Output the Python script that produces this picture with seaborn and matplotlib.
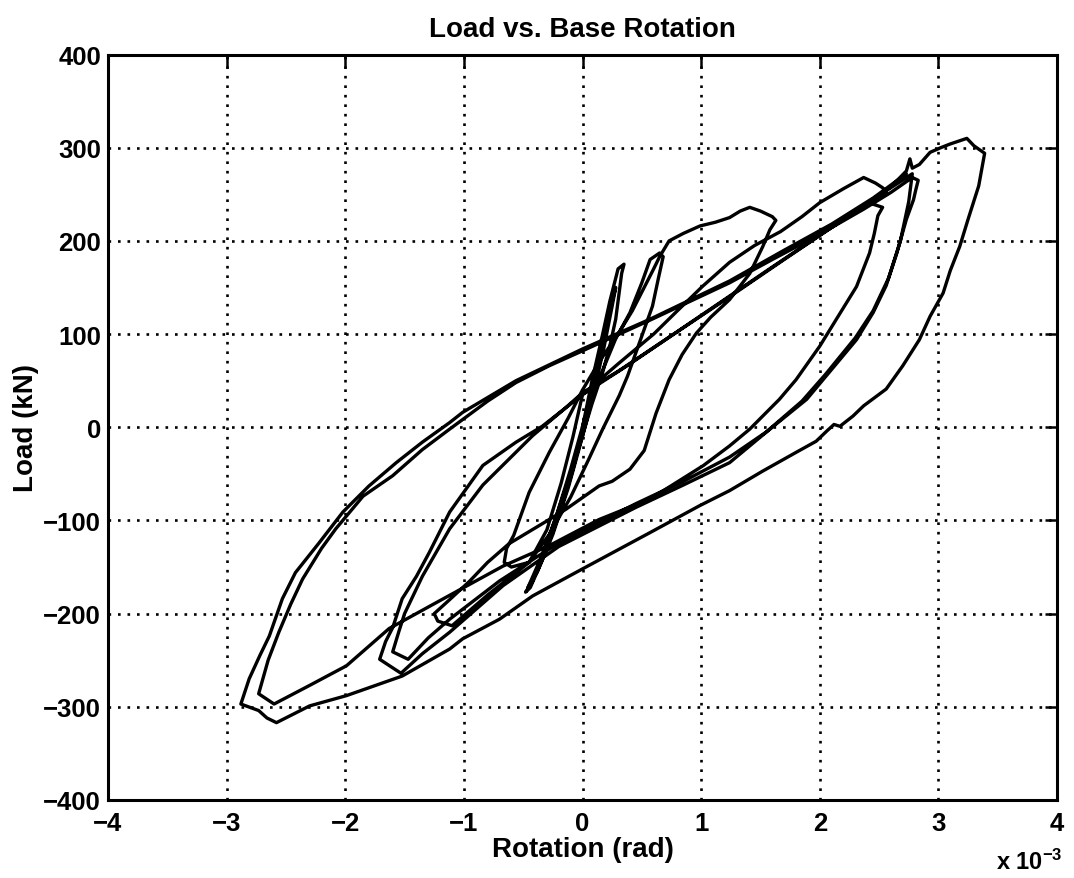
import numpy as np
import pandas as pd
import matplotlib
matplotlib.use("Agg")
import matplotlib.pyplot as plt
import seaborn as sns

# Cyclic test record: base rotation (x 10^-3 rad) against applied load (kN),
# stored cycle by cycle in the order the load history was applied.

# Cycle 1: small elastic cycles about the origin
c1_rot = [0.00, 0.08, 0.17, 0.23, 0.30, 0.35, 0.33, 0.28, 0.23, 0.17, 0.08, -0.05, -0.18,
          -0.30, -0.42, -0.48, -0.44, -0.33, -0.20, -0.08, 0.03, 0.12, 0.20, 0.26, 0.28,
          0.25, 0.18, 0.10, 0.00, -0.12, -0.25, -0.38, -0.46]
c1_load = [0, 50, 100, 135, 170, 175, 165, 116, 87, 59, 25, -30, -80,
           -125, -165, -177, -172, -140, -95, -45, 10, 60, 110, 140, 150,
           130, 85, 40, -10, -65, -115, -155, -172]

# Cycle 2
c2_rot = [-0.46, -0.35, -0.22, -0.10, 0.02, 0.15, 0.28, 0.40, 0.50, 0.57, 0.65, 0.68, 0.64,
          0.59, 0.52, 0.45, 0.38, 0.31, 0.17, 0.05, -0.10, -0.28, -0.45, -0.60, -0.66,
          -0.64, -0.58, -0.45, -0.28, -0.12, 0.00, 0.15, 0.30, 0.42, 0.52, 0.60, 0.65]
c2_load = [-172, -140, -95, -45, 10, 55, 95, 123, 155, 180, 187, 183, 160,
           130, 105, 80, 55, 34, -2, -35, -75, -115, -145, -150, -145,
           -130, -116, -70, -27, 10, 40, 72, 100, 125, 150, 170, 183]

# Cycle 3
c3_rot = [0.73, 0.85, 0.99, 1.12, 1.24, 1.33, 1.41, 1.50, 1.60, 1.63, 1.58, 1.52, 1.41,
          1.24, 1.08, 0.96, 0.84, 0.73, 0.62, 0.52, 0.40, 0.25, 0.14, -0.14, -0.28,
          -0.45, -0.62, -0.80, -0.95, -1.12, -1.25, -1.22, -1.10, -0.80, -0.45, -0.30,
          -0.18, -0.08, 0.00]
c3_load = [200, 208, 216, 220, 225, 232, 236, 232, 226, 222, 212, 194, 165,
           137, 118, 101, 78, 51, 15, -25, -45, -58, -63, -88, -99,
           -112, -125, -145, -165, -185, -200, -208, -213, -180, -145, -110,
           -60, -10, 35]

# Cycle 4
c4_rot = [0.00, 0.30, 0.60, 0.80, 1.01, 1.24, 1.45, 1.67, 1.85, 2.00, 2.20, 2.37, 2.47,
          2.53, 2.56, 2.41, 2.53, 2.49, 2.46, 2.42, 2.31, 2.14, 2.00, 1.80, 1.66, 1.41,
          1.24, 1.02, 0.57, 0.14, -0.28, -0.67, -1.23, -1.63, -1.99, -2.30, -2.60, -2.73,
          -2.65, -2.56, -2.46, -2.36, -2.20, -2.08, -1.85, -1.60, -1.35, -1.12]
c4_load = [35, 68, 100, 125, 151, 177, 195, 210, 226, 241, 256, 268, 262,
           257, 252, 241, 236, 227, 208, 187, 151, 116, 87, 51, 30, -2,
           -20, -41, -77, -99, -127, -149, -188, -216, -256, -277, -297, -286,
           -250, -220, -190, -163, -130, -109, -74, -52, -24, -2]

# Cycle 5
c5_rot = [-0.80, -0.56, -0.28, 0.00, 0.57, 1.24, 1.60, 2.00, 2.37, 2.60, 2.78, 2.83, 2.81,
          2.79, 2.73, 2.65, 2.56, 2.45, 2.31, 2.08, 1.89, 1.58, 1.24, 0.85, 0.45, -0.20,
          -0.67, -1.12, -1.35, -1.53, -1.71, -1.66, -1.60, -1.52, -1.40, -1.29, -1.12,
          -0.84, -0.56, -0.34, -0.15, 0.00]
c5_load = [28, 48, 66, 82, 115, 155, 180, 207, 234, 252, 268, 265, 255,
           244, 223, 187, 152, 123, 94, 59, 30, -2, -38, -62, -86, -128,
           -170, -220, -243, -264, -249, -230, -215, -184, -160, -134, -91,
           -41, -16, 1, 20, 37]

# Cycle 6
c6_rot = [0.30, 0.70, 1.24, 1.70, 2.20, 2.55, 2.78, 2.75, 2.68, 2.58, 2.45, 2.30, 2.05,
          1.85, 1.55, 1.24, 0.85, 0.45, -0.20, -0.70, -1.12, -1.30, -1.47, -1.60, -1.55,
          -1.50, -1.35, -1.12, -0.84, -0.42, -0.15, 0.00]
c6_load = [60, 94, 140, 180, 223, 253, 272, 242, 200, 160, 125, 96, 57,
           28, -5, -32, -58, -82, -124, -165, -206, -226, -249, -241, -220,
           -200, -160, -109, -62, -9, 20, 35]

# Cycle 7: peak cycle
c7_rot = [0.40, 1.00, 1.60, 2.20, 2.60, 2.73, 2.76, 2.78, 2.84, 2.93, 3.02, 3.10, 3.24,
          3.30, 3.39, 3.34, 3.25, 3.18, 3.10, 3.04, 2.93, 2.84, 2.70, 2.56, 2.37, 2.28,
          2.17, 2.12, 2.06, 1.97, 1.80, 1.52, 1.24, 0.99, 0.57, 0.00, -0.42, -0.70,
          -1.01, -1.12, -1.52, -1.99, -2.30, -2.58, -2.66, -2.73, -2.88, -2.81, -2.72,
          -2.64, -2.53, -2.42, -2.22, -2.02, -1.80, -1.57, -1.35, -1.12, -1.01, -0.56,
          0.00, 0.57, 1.24, 1.70, 2.10, 2.45, 2.73]
c7_load = [68, 120, 172, 223, 258, 275, 288, 278, 282, 295, 300, 304, 310,
           302, 294, 259, 223, 194, 168, 144, 119, 94, 66, 41, 23, 12,
           1, 3, -4, -15, -27, -47, -68, -84, -113, -152, -181, -206,
           -227, -238, -267, -288, -299, -317, -312, -304, -297, -270, -245,
           -224, -184, -156, -124, -91, -63, -38, -16, 5, 16, 50,
           84, 116, 157, 190, 218, 246, 272]

x_ticks = [-4, -3, -2, -1, 0, 1, 2, 3, 4]
y_ticks = [-400, -300, -200, -100, 0, 100, 200, 300, 400]

cycles = [(c1_rot, c1_load), (c2_rot, c2_load), (c3_rot, c3_load), (c4_rot, c4_load),
          (c5_rot, c5_load), (c6_rot, c6_load), (c7_rot, c7_load)]
rot = np.concatenate([np.asarray(r, float) for r, _ in cycles])
load = np.concatenate([np.asarray(l, float) for _, l in cycles])
df = pd.DataFrame({"rotation": rot, "load": load, "step": np.arange(len(rot))})

sns.set_style("white")
plt.rcParams["font.family"] = ["Liberation Sans", "DejaVu Sans"]
plt.rcParams["font.weight"] = "bold"
plt.rcParams["axes.titleweight"] = "bold"
plt.rcParams["axes.labelweight"] = "bold"
plt.rcParams["text.color"] = "black"
plt.rcParams["axes.labelcolor"] = "black"
plt.rcParams["xtick.color"] = "black"
plt.rcParams["ytick.color"] = "black"
plt.rcParams["mathtext.fontset"] = "custom"
plt.rcParams["mathtext.rm"] = "Liberation Sans:bold"
plt.rcParams["mathtext.bf"] = "Liberation Sans:bold"
plt.rcParams["mathtext.default"] = "bf"

W, H = 1074, 879
fig = plt.figure(figsize=(W / 100, H / 100), dpi=100)
left, right, top, bottom = 108, 1057, 55.5, 801
ax = fig.add_axes([left / W, 1 - bottom / H, (right - left) / W, (bottom - top) / H])

sns.lineplot(data=df, x="rotation", y="load", sort=False, estimator=None,
             color="black", linewidth=2.4, ax=ax)

ax.set_xlim(-4, 4)
ax.set_ylim(-400, 400)
ax.set_xticks(x_ticks)
ax.set_yticks(y_ticks)
ax.grid(True, color="black", linestyle=(0, (1, 2.6)), linewidth=1.9)
ax.set_axisbelow(True)
ax.tick_params(direction="in", length=9, width=1.8, top=True, right=True,
               labelsize=18.5, pad=8, colors="black")
ax.tick_params(axis="y", pad=5)
for s in ax.spines.values():
    s.set_linewidth(2.2)
    s.set_color("black")

ax.set_xlabel("Rotation (rad)", fontsize=20, fontweight="bold", color="black")
ax.set_ylabel("Load (kN)", fontsize=20, fontweight="bold", color="black")
ax.xaxis.set_label_coords(0.5, -0.048)
ax.yaxis.set_label_coords(-0.073, 0.5)
ax.set_title("Load vs. Base Rotation", fontsize=20, fontweight="bold", pad=13,
             color="black")

fig.text(1062 / W, 1 - 862 / H, r"x 10$^{-3}$", ha="right", va="center",
         fontsize=17, fontweight="bold", color="black")

fig.savefig("out.png", dpi=100, facecolor="white")
